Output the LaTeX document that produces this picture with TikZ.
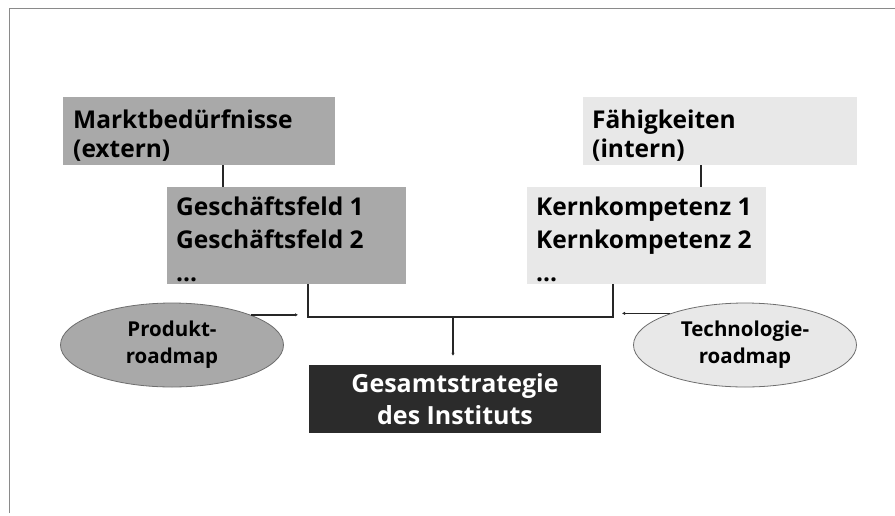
\documentclass[tikz,border=0pt]{standalone}
\usepackage{fontspec}
\setmainfont{Open Sans}
\usetikzlibrary{shapes.geometric,arrows.meta,calc}
\definecolor{darkgrey}{HTML}{A9A9A9}
\definecolor{lightgrey}{HTML}{E8E8E8}
\definecolor{blackbox}{HTML}{2B2B2B}
\definecolor{ellborder}{HTML}{6E6E6E}
\definecolor{framegrey}{HTML}{8A8A8A}
\begin{document}
\begin{tikzpicture}[x=1pt,y=-1pt,
  rectbox/.style={anchor=north west,inner sep=0pt},
  boxlabel/.style={anchor=base west,inner sep=0pt,align=left,
     font=\fontsize{24.5}{29}\selectfont\bfseries},
  talllabel/.style={boxlabel,font=\fontsize{24.5}{33}\selectfont\bfseries},
  ellbox/.style={ellipse,draw=ellborder,line width=0.8pt,inner sep=0pt,
     font=\fontsize{20.5}{27}\selectfont\bfseries,align=center},
  conn/.style={line width=1.6pt,black!85},
  tip/.style={conn,-{Latex[length=3pt,width=3.5pt]}}
]
\useasboundingbox (0,0) rectangle (895,515);
% frame
\draw[framegrey,line width=0.8pt] (9,513) -- (9,8) -- (895,8);

\node[rectbox,fill=darkgrey,minimum width=272pt,minimum height=68pt] (markt) at (63,97) {};
\node[boxlabel] (markt-t) at (73,157) {Marktbedürfnisse\\(extern)};
\node[rectbox,fill=darkgrey,minimum width=239pt,minimum height=97pt] (gesch) at (167,187) {};
\node[talllabel] (gesch-t) at (176,281) {Geschäftsfeld 1\\Geschäftsfeld 2\\...};
\node[rectbox,fill=lightgrey,minimum width=274pt,minimum height=68pt] (faehig) at (583,97) {};
\node[boxlabel] (faehig-t) at (592,157) {Fähigkeiten\\(intern)};
\node[rectbox,fill=lightgrey,minimum width=239pt,minimum height=97pt] (kern) at (527,187) {};
\node[talllabel] (kern-t) at (536,281) {Kernkompetenz 1\\Kernkompetenz 2\\...};
\node[fill=blackbox,text=white,minimum width=292pt,minimum height=68pt,inner sep=0pt,align=center,
  font=\fontsize{25}{32}\selectfont\bfseries] (gesamt) at (455,399)
  {Gesamtstrategie\\des Instituts};
\node[ellbox,fill=darkgrey,minimum width=223pt,minimum height=84pt] (prod) at (172,345)
  {Produkt-\\roadmap};
\node[ellbox,fill=lightgrey,minimum width=223pt,minimum height=84pt] (tech) at (745,345)
  {Technologie-\\roadmap};

\coordinate (jl) at (308,317);
\coordinate (jr) at (613,317);
\coordinate (jm) at (453,317);
\coordinate (pl) at (298,316);
\coordinate (pr) at (622,315);

\draw[conn] (223,0 |- markt.south) -- (223,0 |- gesch.north);
\draw[conn] (701,0 |- faehig.south) -- (701,0 |- kern.north);
\draw[conn] (jl |- gesch.south) -- (jl) -- (jr) -- (jr |- kern.south);
\draw[tip] (jm) -- ($(jm |- gesamt.north)+(0,-9)$);
\draw[tip] (prod.21) -- (prod.21 -| pl);
\draw[tip] (tech.157) -- (tech.157 -| pr);
\end{tikzpicture}
\end{document}
